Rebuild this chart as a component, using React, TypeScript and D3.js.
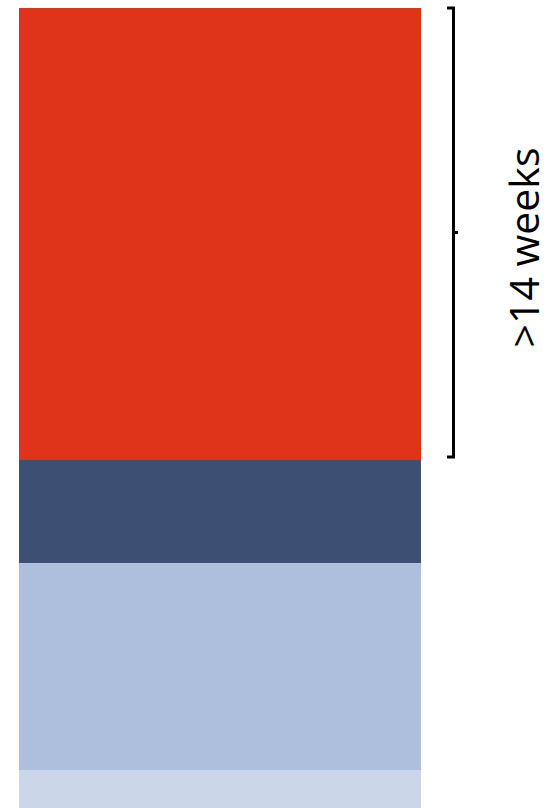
import React from "react";
import * as d3 from "d3";

const segments = ["over14", "dark", "light", "lightest"];
const values = [56.5, 12.9, 25.85, 4.75];
const colors = ["#E0341A", "#3D5073", "#AEBFDD", "#CBD6E9"];
const bracketLabel = ">14 weeks";

const W = 553;
const H = 808;

export default function App() {
  const y = d3.scaleLinear().domain([0, 100]).range([8, 808]);
  const x = d3.scaleBand().domain(["bar"]).range([19, 421]).padding(0);
  const stacked: { key: string; y0: number; y1: number; color: string }[] = [];
  let acc = 0;
  values.forEach((v, i) => {
    stacked.push({ key: segments[i], y0: acc, y1: acc + v, color: colors[i] });
    acc += v;
  });
  const red = stacked[0];
  const top = y(red.y0);
  const bot = y(red.y1) - 3;
  const mid = (top + bot) / 2;
  const bx = 453.5;
  const path = d3.path();
  path.moveTo(447, top);
  path.lineTo(bx, top);
  path.lineTo(bx, bot);
  path.lineTo(447, bot);
  const tick = d3.path();
  tick.moveTo(bx, mid);
  tick.lineTo(458, mid);

  return (
    <svg
      width={W}
      height={H}
      style={{ position: "absolute", left: 0, top: 0, background: "#fff" }}
    >
      {stacked.map((s) => (
        <rect
          key={s.key}
          x={x("bar")}
          width={x.bandwidth()}
          y={y(s.y0)}
          height={y(s.y1) - y(s.y0)}
          fill={s.color}
        />
      ))}
      <path d={path.toString()} fill="none" stroke="#000" strokeWidth={3} strokeLinejoin="miter" />
      <path d={tick.toString()} fill="none" stroke="#000" strokeWidth={3} />
      <text
        transform={`translate(539, ${mid + 15}) rotate(-90)`}
        textAnchor="middle"
        fontFamily="'Open Sans', sans-serif"
        fontSize={41}
        fill="#000"
      >
        {bracketLabel}
      </text>
    </svg>
  );
}
